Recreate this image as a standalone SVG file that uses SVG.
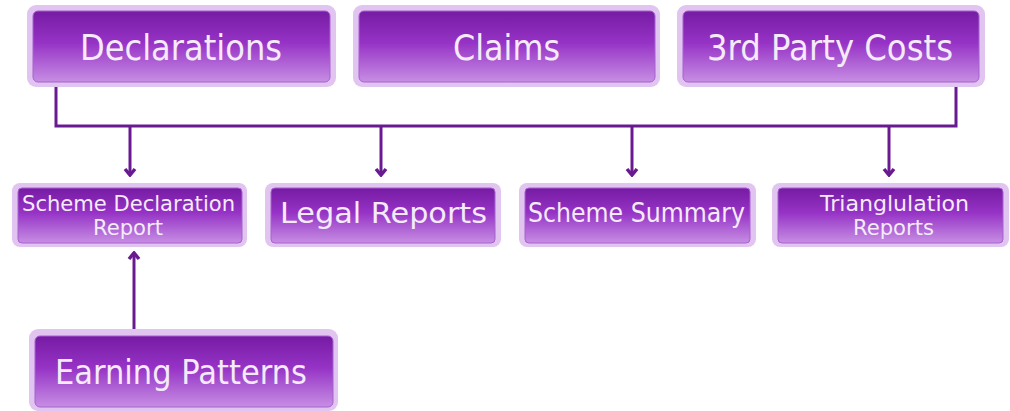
<svg xmlns="http://www.w3.org/2000/svg" width="1010" height="411" viewBox="0 0 1010 411">
<defs>
<linearGradient id="g" x1="0" y1="0" x2="0" y2="1">
<stop offset="0" stop-color="#761ba3"/>
<stop offset="0.45" stop-color="#9633c6"/>
<stop offset="1" stop-color="#c78ee3"/>
</linearGradient>
<marker id="chev" markerUnits="userSpaceOnUse" viewBox="-10 -8 12 16" refX="0" refY="0" markerWidth="12" markerHeight="16" orient="auto">
<path d="M-6,-5 L0,0 L-6,5" fill="none" stroke="#6a1a90" stroke-width="3.5" stroke-linejoin="miter"/>
</marker>
</defs>
<style>
.outer{fill:#e2c4f1;}
.inner{fill:url(#g);stroke:#a562cf;stroke-width:1;}
.t{font-family:"DejaVu Sans",Verdana,sans-serif;fill:#f4eafa;text-anchor:start;}
.line{fill:none;stroke:#6a1a90;stroke-width:3;}
</style>
<g id="connectors">
<polyline class="line" points="56,87 56,126 956,126 956,87"/>
<line class="line" x1="130" y1="126" x2="130" y2="175" marker-end="url(#chev)"/>
<line class="line" x1="381" y1="126" x2="381" y2="175" marker-end="url(#chev)"/>
<line class="line" x1="632" y1="126" x2="632" y2="175" marker-end="url(#chev)"/>
<line class="line" x1="889" y1="126" x2="889" y2="175" marker-end="url(#chev)"/>
<line class="line" x1="134" y1="329" x2="134" y2="253" marker-end="url(#chev)"/>
</g>
<g id="declarations">
<rect class="outer" x="27" y="5" width="309" height="82" rx="9"/>
<rect class="inner" x="33" y="11" width="297" height="71" rx="5"/>
<text class="t" x="80" y="60" font-size="35" textLength="202" lengthAdjust="spacingAndGlyphs">Declarations</text>
</g>
<g id="claims">
<rect class="outer" x="353" y="5" width="307" height="82" rx="9"/>
<rect class="inner" x="359" y="11" width="296" height="71" rx="5"/>
<text class="t" x="453" y="60" font-size="35" textLength="107" lengthAdjust="spacingAndGlyphs">Claims</text>
</g>
<g id="third-party-costs">
<rect class="outer" x="677" y="5" width="308" height="82" rx="9"/>
<rect class="inner" x="683" y="11" width="296" height="71" rx="5"/>
<text class="t" x="707" y="60" font-size="35" textLength="246" lengthAdjust="spacingAndGlyphs">3rd Party Costs</text>
</g>
<g id="scheme-declaration-report">
<rect class="outer" x="12" y="183" width="235" height="64" rx="8"/>
<rect class="inner" x="18" y="188" width="224" height="55" rx="4"/>
<text class="t" x="22" y="211" font-size="21" textLength="213" lengthAdjust="spacingAndGlyphs">Scheme Declaration</text>
<text class="t" x="93" y="235" font-size="21" textLength="70" lengthAdjust="spacingAndGlyphs">Report</text>
</g>
<g id="legal-reports">
<rect class="outer" x="265" y="183" width="236" height="64" rx="8"/>
<rect class="inner" x="271" y="188" width="224" height="55" rx="4"/>
<text class="t" x="280" y="223" font-size="29" textLength="207" lengthAdjust="spacingAndGlyphs">Legal Reports</text>
</g>
<g id="scheme-summary">
<rect class="outer" x="519" y="183" width="237" height="64" rx="8"/>
<rect class="inner" x="525" y="188" width="225" height="55" rx="4"/>
<text class="t" x="528" y="222" font-size="26" textLength="217" lengthAdjust="spacingAndGlyphs">Scheme Summary</text>
</g>
<g id="triangulation-reports">
<rect class="outer" x="772" y="183" width="237" height="64" rx="8"/>
<rect class="inner" x="778" y="188" width="225" height="55" rx="4"/>
<text class="t" x="820" y="211" font-size="21" textLength="149" lengthAdjust="spacingAndGlyphs">Trianglulation</text>
<text class="t" x="853" y="235" font-size="21" textLength="81" lengthAdjust="spacingAndGlyphs">Reports</text>
</g>
<g id="earning-patterns">
<rect class="outer" x="29" y="329" width="309" height="82" rx="9"/>
<rect class="inner" x="35" y="336" width="298" height="71" rx="5"/>
<text class="t" x="55" y="384" font-size="34" textLength="252" lengthAdjust="spacingAndGlyphs">Earning Patterns</text>
</g>
</svg>
